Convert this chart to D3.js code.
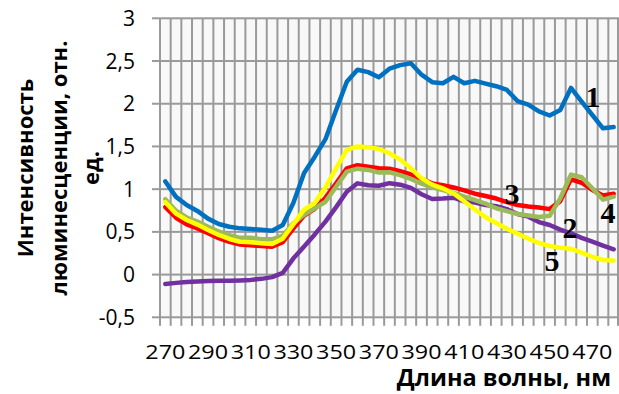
<!DOCTYPE html>
<html><head><meta charset="utf-8">
<script src="https://cdn.jsdelivr.net/npm/d3@7"></script>
<style>html,body{margin:0;padding:0;background:#fff;}svg{display:block;}</style>
</head><body>
<svg id="chart" width="619" height="394"></svg>
<script>
const categories = [270,275,280,285,290,295,300,305,310,315,320,325,330,335,340,345,350,355,360,365,370,375,380,385,390,395,400,405,410,415,420,425,430,435,440,445,450,455,460,465,470,475,480];
const series1 = [1.09,0.91,0.815,0.745,0.655,0.592,0.56,0.541,0.533,0.524,0.514,0.58,0.84,1.19,1.38,1.585,1.927,2.258,2.398,2.37,2.31,2.41,2.452,2.473,2.34,2.252,2.24,2.315,2.24,2.268,2.236,2.205,2.161,2.03,1.99,1.91,1.862,1.927,2.185,2.024,1.868,1.712,1.728];
const series2 = [-0.11,-0.097,-0.088,-0.08,-0.075,-0.072,-0.072,-0.068,-0.062,-0.05,-0.03,0.02,0.19,0.33,0.47,0.62,0.79,0.97,1.068,1.045,1.04,1.07,1.052,1.015,0.94,0.885,0.89,0.9,0.858,0.843,0.815,0.8,0.766,0.709,0.678,0.615,0.58,0.527,0.483,0.43,0.385,0.338,0.296];
const series3 = [0.79,0.665,0.587,0.54,0.483,0.427,0.383,0.352,0.342,0.335,0.327,0.38,0.542,0.69,0.77,0.9,1.068,1.244,1.28,1.263,1.245,1.24,1.21,1.172,1.12,1.068,1.045,1.02,0.986,0.947,0.92,0.89,0.848,0.815,0.798,0.785,0.766,0.86,1.115,1.075,0.99,0.925,0.947];
const series4 = [0.883,0.747,0.668,0.62,0.56,0.505,0.46,0.43,0.43,0.415,0.413,0.455,0.6,0.7,0.776,0.853,1.03,1.205,1.24,1.225,1.195,1.198,1.164,1.12,1.064,1.021,0.99,0.955,0.912,0.873,0.83,0.776,0.742,0.709,0.692,0.674,0.688,0.893,1.17,1.14,1.01,0.877,0.912];
const series5 = [0.848,0.713,0.639,0.585,0.522,0.464,0.417,0.385,0.378,0.366,0.358,0.42,0.59,0.76,0.84,1.02,1.244,1.459,1.5,1.49,1.47,1.42,1.346,1.244,1.127,1.053,1.01,0.95,0.858,0.762,0.672,0.604,0.536,0.477,0.421,0.37,0.335,0.314,0.302,0.258,0.209,0.171,0.165];
const yTicks = [-0.5,0,0.5,1,1.5,2,2.5,3];
const xTickLabels = [270,290,310,330,350,370,390,410,430,450,470];
const seriesNames = ["1","2","3","4","5"];
const colors = ["#0070C0","#7030A0","#FF0000","#9BBB59","#FFFF00"];

const svg = d3.select("#chart");
const L = 160, R = 619, T = 18.3, B = 317.3;
const x = d3.scaleBand().domain(categories).range([L, R]).paddingInner(0).paddingOuter(0);
const y = d3.scaleLinear().domain([-0.5, 3]).range([B, T]);
const fmt = v => String(v).replace(".", ",");

svg.append("rect").attr("x",0).attr("y",0).attr("width",619).attr("height",394).attr("fill","#fff");
svg.append("rect").attr("x",L).attr("y",T).attr("width",R-L).attr("height",B-T).attr("fill","#f8f8f8");

// vertical gridlines at category boundaries (extend below the axis as tick marks)
const edges = categories.map(c => x(c)).concat([x(categories[categories.length-1]) + x.bandwidth()]);
svg.append("g").attr("class","vgrid").selectAll("rect").data(edges).join("rect")
  .attr("x",d=>Math.min(d-1, R-2)).attr("width",2).attr("y",T).attr("height",B+8.5-T)
  .attr("fill","#9a9a9a");
// horizontal gridlines (extend left as tick marks)
svg.append("g").attr("class","hgrid").selectAll("rect").data(yTicks).join("rect")
  .attr("x",L-8).attr("width",R-L+8).attr("y",d=>y(d)-1).attr("height",2)
  .attr("fill","#9a9a9a");

// y tick labels
svg.append("g").selectAll("text").data(yTicks).join("text")
  .attr("x",135).attr("y",d=>y(d)).attr("dy","0.36em")
  .attr("text-anchor","end")
  .attr("font-family","'Open Sans', sans-serif").attr("font-size",21).attr("fill","#000")
  .text(fmt);

// x tick labels
svg.append("g").selectAll("text").data(xTickLabels).join("text")
  .attr("x",d=>x(d)+x.bandwidth()/2).attr("y",359)
  .attr("text-anchor","middle")
  .attr("font-family","'Open Sans', sans-serif").attr("font-size",20).attr("fill","#000")
  .attr("textLength",40).attr("lengthAdjust","spacingAndGlyphs")
  .text(d=>d);

// lines
const allSeries = [series1, series2, series3, series4, series5];
const line = d3.line().x((d,i)=>x(categories[i])+x.bandwidth()/2).y(d=>y(d));
svg.append("g").selectAll("path").data(allSeries).join("path")
  .attr("d",d=>line(d)).attr("fill","none")
  .attr("stroke",(d,i)=>colors[i]).attr("stroke-width",4.5)
  .attr("stroke-linejoin","round").attr("stroke-linecap","round");

// series number labels
const numLabels = [
  {t:seriesNames[0], x:593, y:107},
  {t:seriesNames[1], x:570, y:238},
  {t:seriesNames[2], x:512, y:204},
  {t:seriesNames[3], x:608, y:222.5},
  {t:seriesNames[4], x:552, y:270.5}
];
svg.append("g").selectAll("text").data(numLabels).join("text")
  .attr("x",d=>d.x).attr("y",d=>d.y).attr("text-anchor","middle")
  .attr("font-family","'Liberation Serif', 'Times New Roman', serif")
  .attr("font-weight","bold").attr("font-size",30).attr("fill","#000")
  .text(d=>d.t);

// axis titles
svg.append("text").attr("x",611).attr("y",386).attr("text-anchor","end")
  .attr("font-family","'Open Sans', sans-serif").attr("font-weight","bold").attr("font-size",23.5)
  .attr("fill","#000").text("Длина волны, нм");

const yTitleLines = ["Интенсивность","люминесценции, отн.","ед."];
const yTitleX = [33, 67, 99];
svg.append("g").selectAll("text").data(yTitleLines).join("text")
  .attr("transform",(d,i)=>`translate(${yTitleX[i]},168) rotate(-90)`)
  .attr("text-anchor","middle")
  .attr("font-family","'Open Sans', sans-serif").attr("font-weight","bold").attr("font-size",22)
  .attr("fill","#000").text(d=>d);
</script>
</body></html>
